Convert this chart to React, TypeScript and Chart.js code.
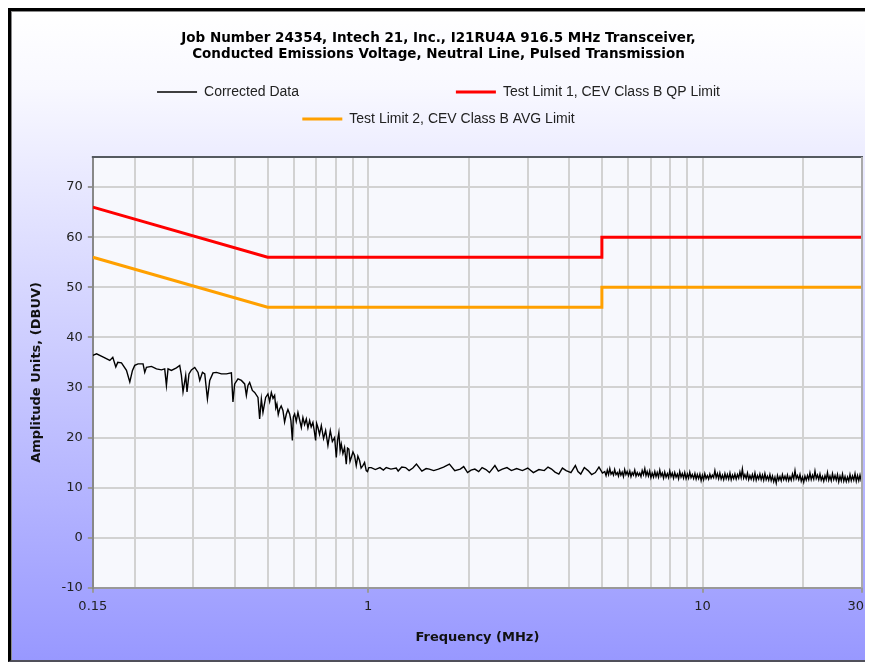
import React, { useEffect, useRef } from 'react';
import { Chart, registerables } from 'chart.js';

Chart.register(...registerables);

const TITLE_LINES = [
  'Job Number 24354, Intech 21, Inc., I21RU4A 916.5 MHz Transceiver,',
  'Conducted Emissions Voltage, Neutral Line, Pulsed Transmission',
];
const SERIES_LABELS = [
  'Corrected Data',
  'Test Limit 1, CEV Class B QP Limit',
  'Test Limit 2, CEV Class B AVG Limit',
];
const X_TITLE = 'Frequency (MHz)';
const Y_TITLE = 'Amplitude Units, (DBUV)';

// Corrected data (MHz, dBuV)
const DATA_FREQ = [
  0.150, 0.1539, 0.1607, 0.1686, 0.1721, 0.1757, 0.1781, 0.1827, 0.1891, 0.1935,
  0.1971, 0.2002, 0.2048, 0.2120, 0.2145, 0.2170, 0.2246, 0.2325, 0.2406, 0.2461,
  0.2490, 0.2518, 0.2577, 0.2668, 0.2729, 0.2761, 0.2792, 0.2844, 0.2870, 0.2909,
  0.2958, 0.3027, 0.3096, 0.3133, 0.3192, 0.3243, 0.3303, 0.3356, 0.3433, 0.3514,
  0.3637, 0.3764, 0.3896, 0.3938, 0.3985, 0.4077, 0.4173, 0.4269, 0.4319, 0.4367,
  0.4418, 0.4501, 0.4573, 0.4679, 0.4733, 0.4789, 0.4842, 0.4933,
  0.5011, 0.507, 0.5130, 0.519, 0.5248, 0.529, 0.5331, 0.538, 0.5432, 0.549,
  0.5557, 0.562, 0.5688, 0.575, 0.5819, 0.587, 0.5929, 0.597, 0.6023, 0.609,
  0.6162, 0.623, 0.6307, 0.6376, 0.645, 0.6527, 0.660, 0.6678, 0.675, 0.6831,
  0.690, 0.6960, 0.701, 0.7071, 0.715, 0.7238, 0.735, 0.7456, 0.7575, 0.7700,
  0.781, 0.7932, 0.8025, 0.810, 0.8168, 0.824, 0.8305, 0.840, 0.8495, 0.8595,
  0.867, 0.8750, 0.882, 0.8897, 0.900, 0.9101, 0.9207, 0.931, 0.9419, 0.952,
  0.9636, 0.975, 0.9863, 0.995, 1.004, 1.021,
  1.05, 1.084, 1.11, 1.132, 1.169, 1.213, 1.229, 1.26, 1.293, 1.325,
  1.36, 1.394, 1.447, 1.49, 1.523, 1.57, 1.621, 1.68, 1.749, 1.815,
  1.885, 1.93, 1.982, 2.03, 2.084, 2.14, 2.191, 2.25, 2.304, 2.393,
  2.45, 2.518, 2.6, 2.681, 2.78, 2.892, 3.0, 3.119, 3.24, 3.362,
  3.45, 3.535, 3.62, 3.717, 3.81, 3.909, 4.04, 4.165, 4.24, 4.323,
  4.43, 4.546, 4.66, 4.779, 4.9, 5.02,
  5.10, 5.145, 5.19, 5.235, 5.28, 5.325, 5.37, 5.415, 5.46, 5.51,
  5.56, 5.605, 5.65, 5.70, 5.75, 5.80, 5.85, 5.90, 5.95, 6.005,
  6.06, 6.11, 6.16, 6.215, 6.27, 6.325, 6.38, 6.435, 6.49, 6.545,
  6.60, 6.66, 6.72, 6.775, 6.83, 6.89, 6.95, 7.01, 7.07, 7.135,
  7.20, 7.26, 7.32, 7.385, 7.45, 7.515, 7.58, 7.645, 7.71, 7.78,
  7.85, 7.915, 7.98, 8.05, 8.12, 8.19, 8.26, 8.335, 8.41, 8.48,
  8.55, 8.625, 8.70, 8.775, 8.85, 8.93, 9.01, 9.085, 9.16, 9.24,
  9.32, 9.405, 9.49, 9.57, 9.65, 9.735, 9.82, 9.905, 9.99, 10.075,
  10.16, 10.25, 10.34, 10.43, 10.52, 10.61, 10.70, 10.795, 10.89, 10.985,
  11.08, 11.175, 11.27, 11.37, 11.47, 11.57, 11.67, 11.77, 11.87, 11.975,
  12.08, 12.185, 12.29, 12.395, 12.50, 12.61, 12.72, 12.83, 12.94, 13.05,
  13.16, 13.275, 13.39, 13.51, 13.63, 13.745, 13.86, 13.98, 14.10, 14.225,
  14.35, 14.475, 14.60, 14.725, 14.85, 14.98, 15.11, 15.24, 15.37, 15.505,
  15.64, 15.775, 15.91, 16.05, 16.19, 16.33, 16.47, 16.615, 16.76, 16.905,
  17.05, 17.195, 17.34, 17.495, 17.65, 17.80, 17.95, 18.105, 18.26, 18.42,
  18.58, 18.745, 18.91, 19.07, 19.23, 19.40, 19.57, 19.74, 19.91, 20.08,
  20.25, 20.43, 20.61, 20.785, 20.96, 21.145, 21.33, 21.515, 21.70, 21.89,
  22.08, 22.27, 22.46, 22.655, 22.85, 23.05, 23.25, 23.45, 23.65, 23.855,
  24.06, 24.27, 24.48, 24.695, 24.91, 25.125, 25.34, 25.56, 25.78, 26.005,
  26.23, 26.46, 26.69, 26.92, 27.15, 27.385, 27.62, 27.86, 28.10, 28.345,
  28.59, 28.84, 29.09, 29.34, 29.59, 29.80, 30.00,
];
const DATA_AMP = [
  36.4, 36.7, 36.1, 35.4, 36.0, 34.1, 35.0, 34.9, 33.4, 31.1,
  33.4, 34.4, 34.7, 34.7, 33.0, 34.0, 34.2, 33.7, 33.5, 33.7,
  30.4, 33.7, 33.4, 33.9, 34.4, 32.4, 29.1, 32.4, 29.1, 32.7,
  33.5, 34.0, 33.0, 31.4, 33.0, 32.7, 27.7, 31.4, 32.9, 33.0,
  32.7, 32.7, 32.9, 27.1, 30.7, 31.7, 31.4, 30.7, 28.4, 30.4,
  31.0, 29.4, 29.0, 28.0, 23.7, 27.7, 25.0, 28.0,
  28.7, 27.2, 29.0, 27.8, 28.4, 25.9, 26.7, 24.6, 25.7, 26.3,
  25.4, 23.1, 24.7, 25.6, 24.7, 23.4, 19.4, 24.1, 24.7, 23.2,
  25.0, 23.6, 22.0, 24.0, 22.6, 23.7, 21.9, 23.4, 22.1, 23.0,
  21.2, 19.4, 22.8, 22.0, 20.6, 22.4, 19.8, 21.4, 18.4, 21.4,
  19.2, 20.0, 16.0, 19.6, 21.0, 17.4, 18.7, 16.8, 18.0, 14.7,
  17.9, 17.7, 15.2, 16.0, 17.1, 16.4, 14.4, 16.3, 15.4, 13.9,
  14.4, 15.0, 13.4, 13.2, 14.0, 14.0,
  13.6, 14.0, 13.5, 14.0, 13.7, 13.9, 13.3, 14.1, 14.0, 13.4,
  13.9, 14.7, 13.3, 13.8, 13.7, 13.4, 13.7, 14.1, 14.7, 13.4,
  13.7, 14.2, 13.0, 13.5, 13.7, 13.2, 14.0, 13.6, 13.0, 14.4,
  13.3, 13.7, 14.0, 13.4, 13.8, 13.4, 13.9, 13.0, 13.6, 13.4,
  14.1, 13.7, 13.1, 12.7, 13.9, 13.4, 13.0, 14.4, 13.2, 12.7,
  14.0, 13.4, 12.6, 13.0, 14.1, 12.9,
  13.2, 12.4, 13.5, 12.6, 13.8, 12.7, 13.1, 12.5, 13.6, 12.6,
  13.0, 12.3, 13.4, 12.5, 13.1, 12.2, 13.6, 12.6, 13.2, 12.4,
  13.3, 12.2, 13.0, 12.5, 13.5, 12.3, 13.0, 12.4, 12.9, 12.2,
  13.4, 12.6, 13.8, 12.4, 13.2, 12.3, 13.3, 12.0, 12.9, 12.1,
  13.2, 12.2, 13.0, 12.1, 13.5, 12.3, 12.9, 11.9, 13.1, 12.1,
  12.8, 12.0, 13.3, 12.2, 12.9, 11.9, 13.0, 12.1, 12.7, 11.8,
  13.2, 12.1, 12.8, 11.9, 13.0, 11.8, 12.7, 11.9, 13.1, 12.0,
  12.6, 11.8, 12.8, 11.7, 12.6, 11.8, 12.7, 11.4, 12.5, 11.6,
  12.8, 11.8, 12.4, 11.7, 12.7, 11.9, 12.5, 12.0, 13.4, 12.0,
  12.8, 11.8, 12.9, 11.7, 12.5, 11.6, 12.8, 11.8, 12.6, 11.7,
  12.9, 11.6, 12.5, 11.8, 12.7, 11.7, 12.6, 11.9, 13.1, 12.0,
  13.7, 11.9, 12.6, 11.8, 12.9, 11.6, 12.4, 11.7, 12.6, 11.6,
  12.9, 11.5, 12.4, 11.7, 12.7, 11.6, 12.5, 11.5, 12.8, 11.6,
  12.3, 11.5, 12.6, 11.4, 12.3, 11.2, 12.1, 10.9, 12.4, 11.5,
  12.2, 11.4, 12.6, 11.6, 12.3, 11.5, 12.5, 11.4, 12.2, 11.5,
  12.7, 11.7, 13.4, 11.8, 12.4, 11.6, 12.6, 11.3, 12.1, 11.1,
  12.3, 11.5, 12.4, 11.6, 12.9, 11.6, 12.5, 11.7, 13.3, 11.8,
  12.5, 11.6, 12.7, 11.5, 12.2, 11.3, 12.4, 11.6, 13.0, 11.5,
  12.3, 11.4, 12.8, 11.6, 12.4, 11.5, 12.6, 11.2, 12.3, 11.4,
  12.7, 11.3, 12.2, 11.2, 12.1, 11.3, 12.6, 11.4, 12.3, 11.5,
  12.8, 11.3, 12.4, 11.4, 12.5, 11.5, 11.9,
];

const QP_FREQ = [0.15, 0.5, 5, 5, 30];
const QP_AMP = [66, 56, 56, 60, 60];
const AVG_FREQ = [0.15, 0.5, 5, 5, 30];
const AVG_AMP = [56, 46, 46, 50, 50];

const X_GRID = [
  0.15, 0.2, 0.3, 0.4, 0.5, 0.6, 0.7, 0.8, 0.9,
  1, 2, 3, 4, 5, 6, 7, 8, 9,
  10, 20, 30,
];
const X_LABELED = [0.15, 1, 10, 30];
const Y_TICKS = [-10, 0, 10, 20, 30, 40, 50, 60, 70];
const Y_MIN = -10;
const Y_MAX = 76;

const toPoints = (xs: number[], ys: number[]) => xs.map((x, i) => ({ x, y: ys[i] }));

const plotFrame = {
  id: 'plotFrame',
  beforeDraw(chart: any) {
    const { ctx, chartArea } = chart;
    if (!chartArea) return;
    ctx.save();
    ctx.fillStyle = '#f7f8fd';
    ctx.fillRect(chartArea.left, chartArea.top, chartArea.right - chartArea.left, chartArea.bottom - chartArea.top);
    ctx.restore();
  },
  afterDatasetsDraw(chart: any) {
    const { ctx, chartArea } = chart;
    if (!chartArea) return;
    ctx.save();
    ctx.lineWidth = 2;
    ctx.strokeStyle = '#555a60';
    ctx.beginPath();
    ctx.moveTo(chartArea.left - 1, chartArea.top);
    ctx.lineTo(chartArea.right + 1, chartArea.top);
    ctx.stroke();
    ctx.strokeStyle = '#aaaaaa';
    ctx.beginPath();
    ctx.moveTo(chartArea.right, chartArea.top);
    ctx.lineTo(chartArea.right, chartArea.bottom);
    ctx.stroke();
    ctx.restore();
  },
};

export default function App() {
  const canvasRef = useRef<HTMLCanvasElement | null>(null);

  useEffect(() => {
    document.documentElement.style.overflow = 'hidden';
    const canvas = canvasRef.current;
    if (!canvas) return;
    const chart = new Chart(canvas, {
      type: 'line',
      data: {
        datasets: [
          {
            label: SERIES_LABELS[0],
            data: toPoints(DATA_FREQ, DATA_AMP),
            borderColor: '#000000',
            backgroundColor: '#000000',
            borderWidth: 1.4,
            pointRadius: 0,
            tension: 0,
          },
          {
            label: SERIES_LABELS[1],
            data: toPoints(QP_FREQ, QP_AMP),
            borderColor: '#ff0000',
            backgroundColor: '#ff0000',
            borderWidth: 3,
            pointRadius: 0,
            tension: 0,
          },
          {
            label: SERIES_LABELS[2],
            data: toPoints(AVG_FREQ, AVG_AMP),
            borderColor: '#ffa000',
            backgroundColor: '#ffa000',
            borderWidth: 3,
            pointRadius: 0,
            tension: 0,
          },
        ],
      },
      options: {
        responsive: false,
        animation: false,
        events: [],
        layout: { padding: { left: 0, right: 0, top: 0, bottom: 0 } },
        plugins: {
          title: {
            display: true,
            text: TITLE_LINES,
            color: '#000000',
            font: { family: 'DejaVu Sans', size: 13.5, weight: 'bold', lineHeight: '16px' },
            padding: { top: 18, bottom: 10 },
          },
          subtitle: {
            display: true,
            text: ' ',
            weight: 500,
            font: { size: 1, lineHeight: '1px' },
            padding: { top: 10, bottom: 10 },
          },
          legend: {
            display: true,
            position: 'top',
            labels: {
              color: '#222222',
              font: { family: 'Liberation Sans', size: 14 },
              usePointStyle: true,
              pointStyle: 'line',
              pointStyleWidth: 40,
              padding: 13,
              generateLabels: (chart: any) => {
                const items = Chart.defaults.plugins.legend.labels.generateLabels(chart);
                if (items[0]) items[0].text = items[0].text + ' '.repeat(37);
                return items;
              },
            },
          },
          tooltip: { enabled: false },
        },
        scales: {
          x: {
            type: 'logarithmic',
            min: 0.15,
            max: 30,
            afterBuildTicks: (scale: any) => {
              scale.ticks = X_GRID.map((v) => ({ value: v }));
            },
            afterFit: (scale: any) => {
              scale.paddingRight = 3;
            },
            ticks: {
              autoSkip: false,
              maxRotation: 0,
              minRotation: 0,
              padding: 6,
              color: '#222222',
              font: { family: 'DejaVu Sans', size: 13 },
              callback: (value: any) => {
                const v = Number(value);
                if (!X_LABELED.includes(v)) return '';
                // keep the last label inside the visible frame
                return v === 30 ? String(v) + '   ' : String(v);
              },
            },
            grid: {
              color: '#d2d2d2',
              lineWidth: 2,
              tickLength: 5,
              tickWidth: 2,
              tickColor: (ctx: any) =>
                ctx.tick && X_LABELED.includes(ctx.tick.value) ? '#999999' : 'rgba(0,0,0,0)',
            },
            border: { display: true, color: '#999999', width: 2 },
            title: {
              display: true,
              text: X_TITLE,
              color: '#111111',
              font: { family: 'DejaVu Sans', size: 13, weight: 'bold' },
              padding: { top: 9, bottom: 15 },
            },
          },
          y: {
            type: 'linear',
            min: Y_MIN,
            max: Y_MAX,
            afterBuildTicks: (scale: any) => {
              scale.ticks = Y_TICKS.map((v) => ({ value: v }));
            },
            ticks: {
              padding: 5,
              color: '#222222',
              font: { family: 'DejaVu Sans', size: 13 },
              callback: (value: any) => String(value),
            },
            grid: {
              color: '#d2d2d2',
              lineWidth: 2,
              tickLength: 5,
              tickWidth: 2,
              tickColor: '#999999',
            },
            border: { display: true, color: '#888888', width: 2 },
            title: {
              display: true,
              text: Y_TITLE,
              color: '#111111',
              font: { family: 'DejaVu Sans', size: 13, weight: 'bold' },
              padding: { top: 17, bottom: 12 },
            },
          },
        },
      },
      plugins: [plotFrame],
    } as any);
    return () => chart.destroy();
  }, []);

  return (
    <div
      style={{
        width: 857,
        height: 654,
        boxSizing: 'border-box',
        borderLeft: '3px solid #000000',
        borderTop: '3px solid #000000',
        borderBottom: '2px solid #50505a',
        background: 'linear-gradient(to bottom, #ffffff 0%, #f8f8ff 12%, #9898ff 100%)',
      }}
    >
      <div
        style={{
          width: 854,
          height: 649,
          boxSizing: 'border-box',
          borderLeft: '1px solid #8a8a8a',
          borderTop: '1px solid #8a8a8a',
        }}
      >
        <canvas ref={canvasRef} width={853} height={648} style={{ display: 'block' }} />
      </div>
    </div>
  );
}
